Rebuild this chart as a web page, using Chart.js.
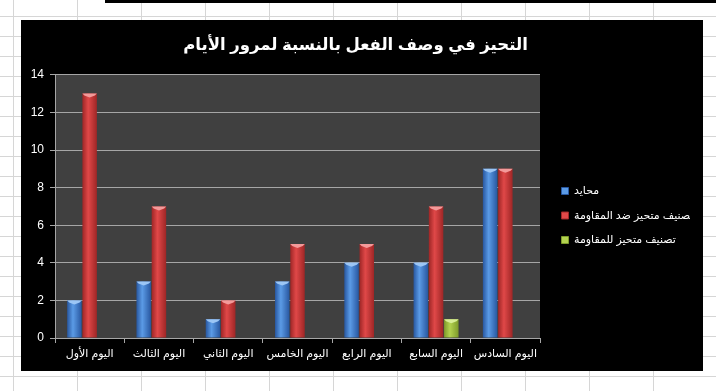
<!DOCTYPE html>
<html>
<head>
<meta charset="utf-8">
<script src="https://cdn.jsdelivr.net/npm/chart.js@4.4.1/dist/chart.umd.min.js"></script>
<style>
  html, body { margin: 0; padding: 0; }
  body {
    width: 716px; height: 391px; overflow: hidden; position: relative;
    background-color: #fff;
    background-image:
      linear-gradient(to right, #d6d6d6 1px, transparent 1px),
      linear-gradient(to bottom, #d6d6d6 1px, transparent 1px);
    background-size: 64px 20px;
    background-position: 13px 16px;
  }
  #topline { position: absolute; left: 105px; top: 0; width: 611px; height: 3px; background: #000; }
  #box { position: absolute; left: 21px; top: 20px; width: 682px; height: 351px; background: #000; }
</style>
</head>
<body>
<div id="topline"></div>
<div id="box"><canvas id="biasChart" width="682" height="351"></canvas></div>
<script>
// الفئات والقيم
const days = ['اليوم الأول', 'اليوم الثالث', 'اليوم الثاني', 'اليوم الخامس', 'اليوم الرابع', 'اليوم السابع', 'اليوم السادس'];
const neutral = [2, 3, 1, 3, 4, 4, 9];
const againstResistance = [13, 7, 2, 5, 5, 7, 9];
const forResistance = [0, 0, 0, 0, 0, 1, 0];
const yTicks = [0, 2, 4, 6, 8, 10, 12, 14];

const fontFamily = 'Arial, "DejaVu Sans", sans-serif';

// ألوان الأعمدة: حافة غامقة، وسط فاتح
const shades = {
    blue:  { edge: '#2857a0', mid: '#5b9be6', cap: '#9cc6f5' },
    red:   { edge: '#9e2626', mid: '#e04848', cap: '#f39a9a' },
    green: { edge: '#7d9a2a', mid: '#b3d24f', cap: '#d8ee96' }
};

// خلفية منطقة الرسم + تدرج الأعمدة
const plotStyle = {
    id: 'plotStyle',
    beforeDraw(chart) {
        const a = chart.chartArea;
        const c = chart.ctx;
        c.save();
        c.fillStyle = '#404040';
        c.fillRect(a.left, a.top, a.right - a.left, a.bottom - a.top);
        c.restore();
    },
    beforeDatasetsDraw(chart) {
        const c = chart.ctx;
        chart.data.datasets.forEach((ds, i) => {
            const s = shades[ds.shade];
            chart.getDatasetMeta(i).data.forEach(el => {
                const w = el.width;
                const g = c.createLinearGradient(el.x - w / 2, 0, el.x + w / 2, 0);
                g.addColorStop(0, s.edge);
                g.addColorStop(0.4, s.mid);
                g.addColorStop(1, s.edge);
                el.options = Object.assign({}, el.options, { backgroundColor: g });
            });
        });
    },
    afterDatasetsDraw(chart) {
        const c = chart.ctx;
        chart.data.datasets.forEach((ds, i) => {
            const s = shades[ds.shade];
            chart.getDatasetMeta(i).data.forEach(el => {
                if (el.base - el.y < 2) return;
                const w = el.width;
                c.save();
                c.fillStyle = s.cap;
                c.beginPath();
                c.moveTo(el.x - w / 2, el.y);
                c.lineTo(el.x + w / 2, el.y);
                c.lineTo(el.x + w / 2 - 2, el.y + 2);
                c.lineTo(el.x, el.y + 4);
                c.lineTo(el.x - w / 2 + 2, el.y + 2);
                c.closePath();
                c.fill();
                c.restore();
            });
        });
    }
};

const ctx = document.getElementById('biasChart').getContext('2d');
const biasChart = new Chart(ctx, {
    type: 'bar',
    data: {
        labels: days,
        datasets: [
            { label: 'محايد', data: neutral, shade: 'blue', backgroundColor: '#4a86d8' },
            { label: 'تصنيف متحيز ضد المقاومة', data: againstResistance, shade: 'red', backgroundColor: '#d03c3c' },
            { label: 'تصنيف متحيز للمقاومة', data: forResistance, shade: 'green', backgroundColor: '#a4c43c' }
        ]
    },
    options: {
        responsive: false,
        animation: false,
        events: [],
        datasets: {
            bar: { categoryPercentage: 0.66, barPercentage: 0.95, borderWidth: 0 }
        },
        layout: { padding: { left: 0, right: 13, top: 0, bottom: 0 } },
        scales: {
            x: {
                grid: { drawOnChartArea: false, offset: true, color: '#a6a6a6', tickLength: 5 },
                border: { color: '#a6a6a6' },
                ticks: { color: '#ffffff', padding: 4, maxRotation: 0, autoSkip: false, font: { family: fontFamily, size: 11 } },
                afterFit(s) { s.height = 33; }
            },
            y: {
                min: 0,
                max: 14,
                afterBuildTicks(s) { s.ticks = yTicks.map(v => ({ value: v })); },
                grid: { color: '#a6a6a6', tickLength: 5 },
                border: { color: '#a6a6a6' },
                ticks: { color: '#ffffff', padding: 6, font: { family: fontFamily, size: 12 } },
                afterFit(s) { s.width = 34; }
            },
            y2: {
                position: 'right',
                grid: { display: false },
                border: { display: false },
                ticks: { display: false },
                afterFit(s) { s.width = 8; }
            }
        },
        plugins: {
            title: {
                display: true,
                text: 'التحيز في وصف الفعل بالنسبة لمرور الأيام',
                color: '#ffffff',
                font: { family: fontFamily, size: 16.5, weight: 'bold' },
                padding: { top: 16, bottom: 19 }
            },
            legend: {
                display: true,
                position: 'right',
                align: 'center',
                maxWidth: 142,
                title: { display: true, text: '', font: { size: 10 }, padding: { top: 14, bottom: 14 } },
                labels: {
                    color: '#ffffff',
                    boxWidth: 7,
                    boxHeight: 7,
                    padding: 13.5,
                    font: { family: fontFamily, size: 11 },
                    generateLabels(chart) {
                        return chart.data.datasets.map((ds, i) => ({
                            text: ds.label,
                            fillStyle: shades[ds.shade].mid,
                            strokeStyle: shades[ds.shade].edge,
                            lineWidth: 1,
                            fontColor: '#ffffff',
                            datasetIndex: i
                        }));
                    }
                }
            },
            tooltip: { enabled: false }
        }
    },
    plugins: [plotStyle]
});
</script>
</body>
</html>
